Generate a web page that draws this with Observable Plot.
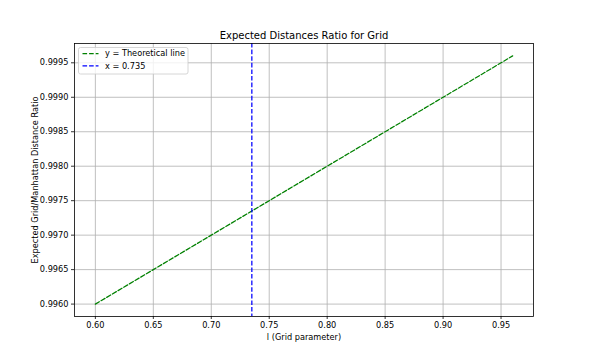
<!DOCTYPE html>
<html><head><meta charset="utf-8">
<script src="https://cdn.jsdelivr.net/npm/d3@7"></script>
<script src="https://cdn.jsdelivr.net/npm/@observablehq/plot@0.6"></script>
<style>html,body{margin:0;padding:0;background:#fff} svg{display:block}</style>
</head><body><div id="chart"></div>
<script>
const lValues = [0.60, 0.65, 0.70, 0.75, 0.80, 0.85, 0.90, 0.95, 0.96];
const ratioValues = [0.9960, 0.9965, 0.9970, 0.9975, 0.9980, 0.9985, 0.9990, 0.9995, 0.9996];
const xTicks = [0.60, 0.65, 0.70, 0.75, 0.80, 0.85, 0.90, 0.95];
const yTicks = [0.9960, 0.9965, 0.9970, 0.9975, 0.9980, 0.9985, 0.9990, 0.9995];
const vLineX = [0.735];
const titleText = "Expected Distances Ratio for Grid";
const xLabel = "l (Grid parameter)";
const yLabel = "Expected Grid/Manhattan Distance Ratio";
const legendLabels = ["y = Theoretical line", "x = 0.735"];
const legendColors = ["#008000", "#0000ff"];

const data = lValues.map((l, i) => ({l, r: ratioValues[i]}));
const dash = "4.6,2";
const font = "DejaVu Sans, sans-serif";

const chart = Plot.plot({
  width: 592, height: 355,
  marginLeft: 74, marginRight: 59, marginTop: 43, marginBottom: 39,
  style: {fontFamily: font, fontSize: "8.2px", background: "#fff", color: "#000"},
  x: {domain: [0.582, 0.978]},
  y: {domain: [0.99582, 0.99978]},
  marks: [
    Plot.gridX(xTicks, {stroke: "#b0b0b0", strokeOpacity: 1, strokeWidth: 0.8}),
    Plot.gridY(yTicks, {stroke: "#b0b0b0", strokeOpacity: 1, strokeWidth: 0.8}),
    Plot.line(data, {x: "l", y: "r", stroke: legendColors[0], strokeWidth: 1.25, strokeDasharray: dash}),
    Plot.ruleX(vLineX, {stroke: legendColors[1], strokeWidth: 1.25, strokeDasharray: dash}),
    Plot.frame({stroke: "#000", strokeWidth: 0.8}),
    Plot.axisX(xTicks, {anchor: "bottom", tickFormat: ".2f", tickSize: 3, tickPadding: 3, label: null, fill: "#000", stroke: "#000", strokeWidth: 0.8, fontSize: 8.2}),
    Plot.axisY(yTicks, {anchor: "left", tickFormat: ".4f", tickSize: 3, tickPadding: 3, label: null, fill: "#000", stroke: "#000", strokeWidth: 0.8, fontSize: 8.2}),
    Plot.text([titleText], {frameAnchor: "top", dy: -8, lineAnchor: "middle", fontSize: 10, fill: "#000"}),
    Plot.text([xLabel], {frameAnchor: "bottom", dy: 21, lineAnchor: "middle", fontSize: 8.2, fill: "#000"}),
    Plot.text([yLabel], {frameAnchor: "left", dx: -39, rotate: -90, textAnchor: "middle", lineAnchor: "middle", fontSize: 8.2, fill: "#000"})
  ]
});
document.getElementById("chart").appendChild(chart);

// legend (matplotlib style, upper left)
const svg = d3.select(chart);
const lg = svg.append("g").attr("transform", "translate(78.5,47.5)");
lg.append("rect").attr("width", 109.5).attr("height", 26.5).attr("rx", 2)
  .attr("fill", "#fff").attr("fill-opacity", 0.8).attr("stroke", "#cccccc").attr("stroke-width", 0.8);
legendLabels.forEach((lab, i) => {
  const y = 6 + i * 12.4;
  lg.append("line").attr("x1", 4).attr("x2", 20).attr("y1", y).attr("y2", y)
    .attr("stroke", legendColors[i]).attr("stroke-width", 1.25).attr("stroke-dasharray", dash);
  lg.append("text").attr("x", 26.5).attr("y", y).attr("dy", "0.35em").attr("text-anchor", "start")
    .attr("font-family", font).attr("font-size", 8.2).attr("fill", "#000").text(lab);
});
</script>
</body></html>
